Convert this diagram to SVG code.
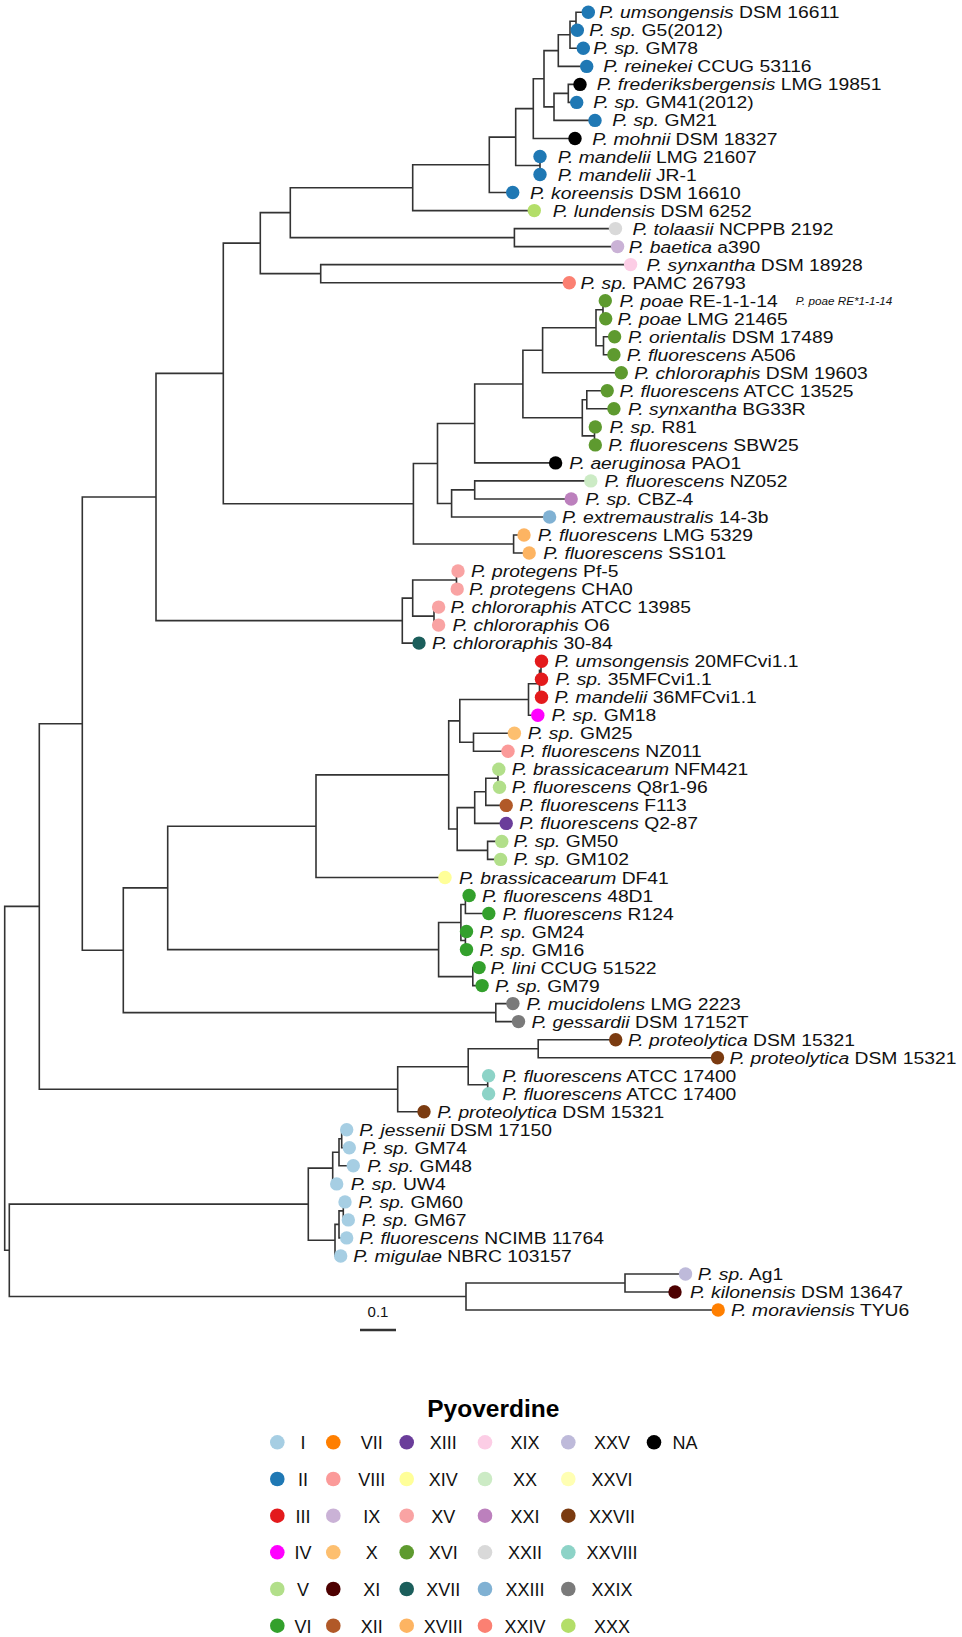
<svg xmlns="http://www.w3.org/2000/svg" width="962" height="1637" viewBox="0 0 962 1637">
<style>
.e{fill:none;stroke:#333;stroke-width:1.6;stroke-linecap:square}
.l{font-family:"Liberation Sans",Arial,sans-serif;font-size:17px;fill:#111}
.i{font-style:italic}
.lg{font-family:"Liberation Sans",Arial,sans-serif;font-size:18px;fill:#111;text-anchor:middle}
.c1{fill:#a6cee3}.c2{fill:#1f78b4}.c3{fill:#e31a1c}.c4{fill:#ff00ff}.c5{fill:#b2df8a}.c6{fill:#33a02c}
.c7{fill:#ff7f00}.c8{fill:#fb9a99}.c9{fill:#cab2d6}.c10{fill:#fdbf6f}.c11{fill:#4d0000}.c12{fill:#b15928}
.c13{fill:#6a3d9a}.c14{fill:#ffff99}.c15{fill:#f9a3a3}.c16{fill:#5e9a2f}.c17{fill:#1b5e5b}.c18{fill:#fdb462}
.c19{fill:#fccde5}.c20{fill:#ccebc5}.c21{fill:#bc80bd}.c22{fill:#d9d9d9}.c23{fill:#80b1d3}.c24{fill:#fb8072}
.c25{fill:#bebada}.c26{fill:#ffffb3}.c27{fill:#7b3b10}.c28{fill:#8dd3c7}.c29{fill:#7a7a7a}.c30{fill:#b3de69}.cna{fill:#000}
</style>
<rect width="962" height="1637" fill="#fff"/>
<g id="connectors">
<path class="e" d="M4.7 906.4V1250.3M4.7 906.4H39.3M4.7 1250.3H9.3
M39.3 723.7V1089.2M39.3 723.7H82.3M39.3 1089.2H397.7
M82.3 497V950.3M82.3 497H156M82.3 950.3H123.3
M156 373.4V620.6M156 373.4H223.3M156 620.6H402.3
M223.3 243.1V503.7M223.3 243.1H260.3M223.3 503.7H413.4
M260.3 212.6V273.6M260.3 212.6H290.3M260.3 273.6H320.7
M290.3 187.7V237.6M290.3 187.7H412.7M290.3 237.6H514.4
M412.7 164.8V210.6M412.7 164.8H489.3M412.7 210.6H534.3
M489.3 137.1V192.5M489.3 137.1H515.7M489.3 192.5H512.7
M515.7 108.6V165.5M515.7 108.6H533.3M515.7 165.5H540
M540 156.5V174.5
M533.3 78.8V138.5M533.3 78.8H544M533.3 138.5H575
M544 50.6V106.9M544 50.6H558.3M544 106.9H554
M554 93.4V120.4M554 93.4H568.3M554 120.4H595
M568.3 84.4V102.4M568.3 84.4H580M568.3 102.4H576.7
M558.3 34.8V66.4M558.3 34.8H570M558.3 66.4H586.7
M570 21.3V48.3M570 21.3H576M570 48.3H583.3
M576 12.3V30.3M576 12.3H588.3M576 30.3H577.3
M514.4 228.6V246.6M514.4 228.6H615.5M514.4 246.6H617.6
M320.7 264.6V282.7M320.7 264.6H630.6M320.7 282.7H569.3
M413.4 463.5V544M413.4 463.5H437.5M413.4 544H513.6
M437.5 423.5V503.5M437.5 423.5H474.7M437.5 503.5H451.6
M474.7 384V462.9M474.7 384H522.9M474.7 462.9H555.6
M522.9 350.2V417.8M522.9 350.2H542.6M522.9 417.8H582.3
M542.6 327.7V372.8M542.6 327.7H596M542.6 372.8H621.3
M596 309.7V345.7M596 309.7H603M596 345.7H603.5
M603 300.7V318.7M603 300.7H605.3M603 318.7H605.7
M603.5 336.7V354.8M603.5 336.7H614.6M603.5 354.8H613.9
M582.3 399.8V435.9M582.3 399.8H586.8M582.3 435.9H594.5
M586.8 390.8V408.8M586.8 390.8H607.2M586.8 408.8H613.9
M594.5 426.9V444.9M594.5 426.9H595.3M594.5 444.9H595.3
M451.6 489.9V517M451.6 489.9H474.7M451.6 517H549.6
M474.7 480.9V499M474.7 480.9H590.8M474.7 499H571.2
M513.6 535V553M513.6 535H524M513.6 553H529.2
M402.3 598.1V643.1M402.3 598.1H412.7M402.3 643.1H419
M412.7 580V616.1M412.7 580H456.5M412.7 616.1H434
M456.5 571V589.1M456.5 571H458M456.5 589.1H457.2
M434 607.1V625.1M434 607.1H438.6M434 625.1H438.6
M123.3 887.9V1012.6M123.3 887.9H167.7M123.3 1012.6H495.8
M167.7 826.2V949.6M167.7 826.2H316M167.7 949.6H438.6
M316 774.9V877.5M316 774.9H448.7M316 877.5H445
M448.7 720.9V829M448.7 720.9H459.8M448.7 829H457.2
M459.8 699.5V742.3M459.8 699.5H528.5M459.8 742.3H473.5
M528.5 683.7V715.2M528.5 683.7H539.5M528.5 715.2H537.8
M539.5 670.2V697.2M539.5 670.2H541M539.5 697.2H541.5
M541 661.2V679.2
M473.5 733.3V751.3M473.5 733.3H514.4M473.5 751.3H508
M457.2 807.6V850.4M457.2 807.6H474.7M457.2 850.4H487.6
M474.7 791.8V823.4M474.7 791.8H485.8M474.7 823.4H506.2
M485.8 778.3V805.4M485.8 778.3H498M485.8 805.4H506.2
M498 769.3V787.3M498 769.3H498.8M498 787.3H499.5
M487.6 841.4V859.4M487.6 841.4H501.8M487.6 859.4H500.6
M438.6 922.5V976.6M438.6 922.5H460.9M438.6 976.6H472.8
M460.9 904.5V940.5M460.9 904.5H465.4M460.9 940.5H465.4
M465.4 895.5V913.5M465.4 895.5H469.1M465.4 913.5H488.8
M465.4 931.5V949.6M465.4 931.5H466.5M465.4 949.6H466.5
M472.8 967.6V985.6M472.8 967.6H479.1M472.8 985.6H482.1
M495.8 1003.6V1021.6M495.8 1003.6H512.9M495.8 1021.6H518.5
M397.7 1066.7V1111.8M397.7 1066.7H468.2M397.7 1111.8H424
M468.2 1048.7V1084.7M468.2 1048.7H538.2M468.2 1084.7H487.7
M538.2 1039.7V1057.7M538.2 1039.7H615.7M538.2 1057.7H717.5
M487.7 1075.7V1093.7M487.7 1075.7H488.6M487.7 1093.7H488.6
M9.3 1204.1V1296.5M9.3 1204.1H308.3M9.3 1296.5H466
M308.3 1168.1V1240.2M308.3 1168.1H332.7M308.3 1240.2H335
M332.7 1152.3V1183.9M332.7 1152.3H339M332.7 1183.9H336.7
M339 1138.8V1165.8M339 1138.8H341.7M339 1165.8H353.3
M341.7 1129.8V1147.8M341.7 1129.8H346.7M341.7 1147.8H349.3
M335 1224.4V1256M335 1224.4H339M335 1256H340.7
M339 1210.9V1237.9M339 1210.9H343.3M339 1237.9H346.7
M343.3 1201.9V1219.9M343.3 1201.9H345M343.3 1219.9H348.3
M466 1283V1310M466 1283H625M466 1310H718.2
M625 1274V1292M625 1274H685.5M625 1292H675"/>
</g>
<g id="t1"><circle class="c2" cx="588.3" cy="12.3" r="6.7"/><text class="l" transform="matrix(1.135 0 0 1 599 18.3)"><tspan class="i">P. umsongensis</tspan> DSM 16611</text></g>
<g id="t2"><circle class="c2" cx="577.3" cy="30.3" r="6.7"/><text class="l" transform="matrix(1.135 0 0 1 589.3 36.3)"><tspan class="i">P. sp.</tspan> G5(2012)</text></g>
<g id="t3"><circle class="c2" cx="583.3" cy="48.3" r="6.7"/><text class="l" transform="matrix(1.135 0 0 1 593.3 54.3)"><tspan class="i">P. sp.</tspan> GM78</text></g>
<g id="t4"><circle class="c2" cx="586.7" cy="66.4" r="6.7"/><text class="l" transform="matrix(1.135 0 0 1 603.3 72.4)"><tspan class="i">P. reinekei</tspan> CCUG 53116</text></g>
<g id="t5"><circle class="cna" cx="580" cy="84.4" r="6.7"/><text class="l" transform="matrix(1.135 0 0 1 596.7 90.4)"><tspan class="i">P. frederiksbergensis</tspan> LMG 19851</text></g>
<g id="t6"><circle class="c2" cx="576.7" cy="102.4" r="6.7"/><text class="l" transform="matrix(1.135 0 0 1 593.3 108.4)"><tspan class="i">P. sp.</tspan> GM41(2012)</text></g>
<g id="t7"><circle class="c2" cx="595" cy="120.4" r="6.7"/><text class="l" transform="matrix(1.135 0 0 1 612.3 126.4)"><tspan class="i">P. sp.</tspan> GM21</text></g>
<g id="t8"><circle class="cna" cx="575" cy="138.5" r="6.7"/><text class="l" transform="matrix(1.135 0 0 1 592.3 144.5)"><tspan class="i">P. mohnii</tspan> DSM 18327</text></g>
<g id="t9"><circle class="c2" cx="540" cy="156.5" r="6.7"/><text class="l" transform="matrix(1.135 0 0 1 557.7 162.5)"><tspan class="i">P. mandelii</tspan> LMG 21607</text></g>
<g id="t10"><circle class="c2" cx="540" cy="174.5" r="6.7"/><text class="l" transform="matrix(1.135 0 0 1 557.7 180.5)"><tspan class="i">P. mandelii</tspan> JR-1</text></g>
<g id="t11"><circle class="c2" cx="512.7" cy="192.5" r="6.7"/><text class="l" transform="matrix(1.135 0 0 1 530 198.5)"><tspan class="i">P. koreensis</tspan> DSM 16610</text></g>
<g id="t12"><circle class="c30" cx="534.3" cy="210.6" r="6.7"/><text class="l" transform="matrix(1.135 0 0 1 552.7 216.6)"><tspan class="i">P. lundensis</tspan> DSM 6252</text></g>
<g id="t13"><circle class="c22" cx="615.5" cy="228.6" r="6.7"/><text class="l" transform="matrix(1.135 0 0 1 632.4 234.6)"><tspan class="i">P. tolaasii</tspan> NCPPB 2192</text></g>
<g id="t14"><circle class="c9" cx="617.6" cy="246.6" r="6.7"/><text class="l" transform="matrix(1.135 0 0 1 628.7 252.6)"><tspan class="i">P. baetica</tspan> a390</text></g>
<g id="t15"><circle class="c19" cx="630.6" cy="264.6" r="6.7"/><text class="l" transform="matrix(1.135 0 0 1 646.5 270.6)"><tspan class="i">P. synxantha</tspan> DSM 18928</text></g>
<g id="t16"><circle class="c24" cx="569.3" cy="282.7" r="6.7"/><text class="l" transform="matrix(1.135 0 0 1 580.4 288.7)"><tspan class="i">P. sp.</tspan> PAMC 26793</text></g>
<g id="t17"><circle class="c16" cx="605.3" cy="300.7" r="6.7"/><text class="l" transform="matrix(1.135 0 0 1 619.4 306.7)"><tspan class="i">P. poae</tspan> RE-1-1-14</text><text class="l i" style="font-size:10px" transform="matrix(1.17 0 0 1 795.7 304.5)">P. poae RE*1-1-14</text></g>
<g id="t18"><circle class="c16" cx="605.7" cy="318.7" r="6.7"/><text class="l" transform="matrix(1.135 0 0 1 617.6 324.7)"><tspan class="i">P. poae</tspan> LMG 21465</text></g>
<g id="t19"><circle class="c16" cx="614.6" cy="336.7" r="6.7"/><text class="l" transform="matrix(1.135 0 0 1 628 342.7)"><tspan class="i">P. orientalis</tspan> DSM 17489</text></g>
<g id="t20"><circle class="c16" cx="613.9" cy="354.8" r="6.7"/><text class="l" transform="matrix(1.135 0 0 1 626.8 360.8)"><tspan class="i">P. fluorescens</tspan> A506</text></g>
<g id="t21"><circle class="c16" cx="621.3" cy="372.8" r="6.7"/><text class="l" transform="matrix(1.135 0 0 1 634.3 378.8)"><tspan class="i">P. chlororaphis</tspan> DSM 19603</text></g>
<g id="t22"><circle class="c16" cx="607.2" cy="390.8" r="6.7"/><text class="l" transform="matrix(1.135 0 0 1 619.4 396.8)"><tspan class="i">P. fluorescens</tspan> ATCC 13525</text></g>
<g id="t23"><circle class="c16" cx="613.9" cy="408.8" r="6.7"/><text class="l" transform="matrix(1.135 0 0 1 628 414.8)"><tspan class="i">P. synxantha</tspan> BG33R</text></g>
<g id="t24"><circle class="c16" cx="595.3" cy="426.9" r="6.7"/><text class="l" transform="matrix(1.135 0 0 1 609.4 432.9)"><tspan class="i">P. sp.</tspan> R81</text></g>
<g id="t25"><circle class="c16" cx="595.3" cy="444.9" r="6.7"/><text class="l" transform="matrix(1.135 0 0 1 608.3 450.9)"><tspan class="i">P. fluorescens</tspan> SBW25</text></g>
<g id="t26"><circle class="cna" cx="555.6" cy="462.9" r="6.7"/><text class="l" transform="matrix(1.135 0 0 1 569.3 468.9)"><tspan class="i">P. aeruginosa</tspan> PAO1</text></g>
<g id="t27"><circle class="c20" cx="590.8" cy="480.9" r="6.7"/><text class="l" transform="matrix(1.135 0 0 1 604.6 486.9)"><tspan class="i">P. fluorescens</tspan> NZ052</text></g>
<g id="t28"><circle class="c21" cx="571.2" cy="499" r="6.7"/><text class="l" transform="matrix(1.135 0 0 1 585.3 505)"><tspan class="i">P. sp.</tspan> CBZ-4</text></g>
<g id="t29"><circle class="c23" cx="549.6" cy="517" r="6.7"/><text class="l" transform="matrix(1.135 0 0 1 561.9 523)"><tspan class="i">P. extremaustralis</tspan> 14-3b</text></g>
<g id="t30"><circle class="c18" cx="524" cy="535" r="6.7"/><text class="l" transform="matrix(1.135 0 0 1 537.8 541)"><tspan class="i">P. fluorescens</tspan> LMG 5329</text></g>
<g id="t31"><circle class="c18" cx="529.2" cy="553" r="6.7"/><text class="l" transform="matrix(1.135 0 0 1 543.3 559)"><tspan class="i">P. fluorescens</tspan> SS101</text></g>
<g id="t32"><circle class="c15" cx="458" cy="571" r="6.7"/><text class="l" transform="matrix(1.135 0 0 1 470.9 577)"><tspan class="i">P. protegens</tspan> Pf-5</text></g>
<g id="t33"><circle class="c15" cx="457.2" cy="589.1" r="6.7"/><text class="l" transform="matrix(1.135 0 0 1 469.1 595.1)"><tspan class="i">P. protegens</tspan> CHA0</text></g>
<g id="t34"><circle class="c15" cx="438.6" cy="607.1" r="6.7"/><text class="l" transform="matrix(1.135 0 0 1 450.5 613.1)"><tspan class="i">P. chlororaphis</tspan> ATCC 13985</text></g>
<g id="t35"><circle class="c15" cx="438.6" cy="625.1" r="6.7"/><text class="l" transform="matrix(1.135 0 0 1 452.4 631.1)"><tspan class="i">P. chlororaphis</tspan> O6</text></g>
<g id="t36"><circle class="c17" cx="419" cy="643.1" r="6.7"/><text class="l" transform="matrix(1.135 0 0 1 432 649.1)"><tspan class="i">P. chlororaphis</tspan> 30-84</text></g>
<g id="t37"><circle class="c3" cx="541.5" cy="661.2" r="6.7"/><text class="l" transform="matrix(1.135 0 0 1 554.5 667.2)"><tspan class="i">P. umsongensis</tspan> 20MFCvi1.1</text></g>
<g id="t38"><circle class="c3" cx="541.5" cy="679.2" r="6.7"/><text class="l" transform="matrix(1.135 0 0 1 555.6 685.2)"><tspan class="i">P. sp.</tspan> 35MFCvi1.1</text></g>
<g id="t39"><circle class="c3" cx="541.5" cy="697.2" r="6.7"/><text class="l" transform="matrix(1.135 0 0 1 554.5 703.2)"><tspan class="i">P. mandelii</tspan> 36MFCvi1.1</text></g>
<g id="t40"><circle class="c4" cx="537.8" cy="715.2" r="6.7"/><text class="l" transform="matrix(1.135 0 0 1 551.5 721.2)"><tspan class="i">P. sp.</tspan> GM18</text></g>
<g id="t41"><circle class="c10" cx="514.4" cy="733.3" r="6.7"/><text class="l" transform="matrix(1.135 0 0 1 527.7 739.3)"><tspan class="i">P. sp.</tspan> GM25</text></g>
<g id="t42"><circle class="c8" cx="508" cy="751.3" r="6.7"/><text class="l" transform="matrix(1.135 0 0 1 520.3 757.3)"><tspan class="i">P. fluorescens</tspan> NZ011</text></g>
<g id="t43"><circle class="c5" cx="498.8" cy="769.3" r="6.7"/><text class="l" transform="matrix(1.135 0 0 1 511.8 775.3)"><tspan class="i">P. brassicacearum</tspan> NFM421</text></g>
<g id="t44"><circle class="c5" cx="499.5" cy="787.3" r="6.7"/><text class="l" transform="matrix(1.135 0 0 1 511.8 793.3)"><tspan class="i">P. fluorescens</tspan> Q8r1-96</text></g>
<g id="t45"><circle class="c12" cx="506.2" cy="805.4" r="6.7"/><text class="l" transform="matrix(1.135 0 0 1 519.2 811.4)"><tspan class="i">P. fluorescens</tspan> F113</text></g>
<g id="t46"><circle class="c13" cx="506.2" cy="823.4" r="6.7"/><text class="l" transform="matrix(1.135 0 0 1 519.2 829.4)"><tspan class="i">P. fluorescens</tspan> Q2-87</text></g>
<g id="t47"><circle class="c5" cx="501.8" cy="841.4" r="6.7"/><text class="l" transform="matrix(1.135 0 0 1 513.6 847.4)"><tspan class="i">P. sp.</tspan> GM50</text></g>
<g id="t48"><circle class="c5" cx="500.6" cy="859.4" r="6.7"/><text class="l" transform="matrix(1.135 0 0 1 513.6 865.4)"><tspan class="i">P. sp.</tspan> GM102</text></g>
<g id="t49"><circle class="c14" cx="445" cy="877.5" r="6.7"/><text class="l" transform="matrix(1.135 0 0 1 459.1 883.5)"><tspan class="i">P. brassicacearum</tspan> DF41</text></g>
<g id="t50"><circle class="c6" cx="469.1" cy="895.5" r="6.7"/><text class="l" transform="matrix(1.135 0 0 1 482.1 901.5)"><tspan class="i">P. fluorescens</tspan> 48D1</text></g>
<g id="t51"><circle class="c6" cx="488.8" cy="913.5" r="6.7"/><text class="l" transform="matrix(1.135 0 0 1 502.5 919.5)"><tspan class="i">P. fluorescens</tspan> R124</text></g>
<g id="t52"><circle class="c6" cx="466.5" cy="931.5" r="6.7"/><text class="l" transform="matrix(1.135 0 0 1 479.5 937.5)"><tspan class="i">P. sp.</tspan> GM24</text></g>
<g id="t53"><circle class="c6" cx="466.5" cy="949.6" r="6.7"/><text class="l" transform="matrix(1.135 0 0 1 479.5 955.6)"><tspan class="i">P. sp.</tspan> GM16</text></g>
<g id="t54"><circle class="c6" cx="479.1" cy="967.6" r="6.7"/><text class="l" transform="matrix(1.135 0 0 1 490.6 973.6)"><tspan class="i">P. lini</tspan> CCUG 51522</text></g>
<g id="t55"><circle class="c6" cx="482.1" cy="985.6" r="6.7"/><text class="l" transform="matrix(1.135 0 0 1 495.1 991.6)"><tspan class="i">P. sp.</tspan> GM79</text></g>
<g id="t56"><circle class="c29" cx="512.9" cy="1003.6" r="6.7"/><text class="l" transform="matrix(1.135 0 0 1 526.6 1009.6)"><tspan class="i">P. mucidolens</tspan> LMG 2223</text></g>
<g id="t57"><circle class="c29" cx="518.5" cy="1021.6" r="6.7"/><text class="l" transform="matrix(1.135 0 0 1 531.4 1027.6)"><tspan class="i">P. gessardii</tspan> DSM 17152T</text></g>
<g id="t58"><circle class="c27" cx="615.7" cy="1039.7" r="6.7"/><text class="l" transform="matrix(1.135 0 0 1 628 1045.7)"><tspan class="i">P. proteolytica</tspan> DSM 15321</text></g>
<g id="t59"><circle class="c27" cx="717.5" cy="1057.7" r="6.7"/><text class="l" transform="matrix(1.135 0 0 1 729.5 1063.7)"><tspan class="i">P. proteolytica</tspan> DSM 15321</text></g>
<g id="t60"><circle class="c28" cx="488.6" cy="1075.7" r="6.7"/><text class="l" transform="matrix(1.135 0 0 1 502.3 1081.7)"><tspan class="i">P. fluorescens</tspan> ATCC 17400</text></g>
<g id="t61"><circle class="c28" cx="488.6" cy="1093.7" r="6.7"/><text class="l" transform="matrix(1.135 0 0 1 502.3 1099.7)"><tspan class="i">P. fluorescens</tspan> ATCC 17400</text></g>
<g id="t62"><circle class="c27" cx="424" cy="1111.8" r="6.7"/><text class="l" transform="matrix(1.135 0 0 1 437.3 1117.8)"><tspan class="i">P. proteolytica</tspan> DSM 15321</text></g>
<g id="t63"><circle class="c1" cx="346.7" cy="1129.8" r="6.7"/><text class="l" transform="matrix(1.135 0 0 1 359.3 1135.8)"><tspan class="i">P. jessenii</tspan> DSM 17150</text></g>
<g id="t64"><circle class="c1" cx="349.3" cy="1147.8" r="6.7"/><text class="l" transform="matrix(1.135 0 0 1 362.3 1153.8)"><tspan class="i">P. sp.</tspan> GM74</text></g>
<g id="t65"><circle class="c1" cx="353.3" cy="1165.8" r="6.7"/><text class="l" transform="matrix(1.135 0 0 1 367.3 1171.8)"><tspan class="i">P. sp.</tspan> GM48</text></g>
<g id="t66"><circle class="c1" cx="336.7" cy="1183.9" r="6.7"/><text class="l" transform="matrix(1.135 0 0 1 350.7 1189.9)"><tspan class="i">P. sp.</tspan> UW4</text></g>
<g id="t67"><circle class="c1" cx="345" cy="1201.9" r="6.7"/><text class="l" transform="matrix(1.135 0 0 1 358.3 1207.9)"><tspan class="i">P. sp.</tspan> GM60</text></g>
<g id="t68"><circle class="c1" cx="348.3" cy="1219.9" r="6.7"/><text class="l" transform="matrix(1.135 0 0 1 361.7 1225.9)"><tspan class="i">P. sp.</tspan> GM67</text></g>
<g id="t69"><circle class="c1" cx="346.7" cy="1237.9" r="6.7"/><text class="l" transform="matrix(1.135 0 0 1 359.3 1243.9)"><tspan class="i">P. fluorescens</tspan> NCIMB 11764</text></g>
<g id="t70"><circle class="c1" cx="340.7" cy="1256" r="6.7"/><text class="l" transform="matrix(1.135 0 0 1 353.3 1262)"><tspan class="i">P. migulae</tspan> NBRC 103157</text></g>
<g id="t71"><circle class="c25" cx="685.5" cy="1274" r="6.7"/><text class="l" transform="matrix(1.135 0 0 1 697.7 1280)"><tspan class="i">P. sp.</tspan> Ag1</text></g>
<g id="t72"><circle class="c11" cx="675" cy="1292" r="6.7"/><text class="l" transform="matrix(1.135 0 0 1 690 1298)"><tspan class="i">P. kilonensis</tspan> DSM 13647</text></g>
<g id="t73"><circle class="c7" cx="718.2" cy="1310" r="6.7"/><text class="l" transform="matrix(1.135 0 0 1 731 1316)"><tspan class="i">P. moraviensis</tspan> TYU6</text></g>
<g id="scalebar">
<path d="M360 1330H396" stroke="#333" stroke-width="2.5" fill="none"/>
<text x="378" y="1317" font-family="Liberation Sans, Arial, sans-serif" font-size="15" text-anchor="middle" fill="#111">0.1</text>
</g>
<g id="legend">
<text x="493.3" y="1416.7" font-family="Liberation Sans, Arial, sans-serif" font-size="24.5" font-weight="bold" text-anchor="middle" fill="#000">Pyoverdine</text>
<circle class="c1" cx="277.3" cy="1442.3" r="7.3"/><text class="lg" x="303" y="1449.3">I</text>
<circle class="c2" cx="277.3" cy="1479" r="7.3"/><text class="lg" x="303" y="1486">II</text>
<circle class="c3" cx="277.3" cy="1515.7" r="7.3"/><text class="lg" x="303" y="1522.7">III</text>
<circle class="c4" cx="277.3" cy="1552.3" r="7.3"/><text class="lg" x="303" y="1559.3">IV</text>
<circle class="c5" cx="277.3" cy="1589" r="7.3"/><text class="lg" x="303" y="1596">V</text>
<circle class="c6" cx="277.3" cy="1625.7" r="7.3"/><text class="lg" x="303" y="1632.7">VI</text>
<circle class="c7" cx="333.3" cy="1442.3" r="7.3"/><text class="lg" x="371.7" y="1449.3">VII</text>
<circle class="c8" cx="333.3" cy="1479" r="7.3"/><text class="lg" x="371.7" y="1486">VIII</text>
<circle class="c9" cx="333.3" cy="1515.7" r="7.3"/><text class="lg" x="371.7" y="1522.7">IX</text>
<circle class="c10" cx="333.3" cy="1552.3" r="7.3"/><text class="lg" x="371.7" y="1559.3">X</text>
<circle class="c11" cx="333.3" cy="1589" r="7.3"/><text class="lg" x="371.7" y="1596">XI</text>
<circle class="c12" cx="333.3" cy="1625.7" r="7.3"/><text class="lg" x="371.7" y="1632.7">XII</text>
<circle class="c13" cx="406.7" cy="1442.3" r="7.3"/><text class="lg" x="443.3" y="1449.3">XIII</text>
<circle class="c14" cx="406.7" cy="1479" r="7.3"/><text class="lg" x="443.3" y="1486">XIV</text>
<circle class="c15" cx="406.7" cy="1515.7" r="7.3"/><text class="lg" x="443.3" y="1522.7">XV</text>
<circle class="c16" cx="406.7" cy="1552.3" r="7.3"/><text class="lg" x="443.3" y="1559.3">XVI</text>
<circle class="c17" cx="406.7" cy="1589" r="7.3"/><text class="lg" x="443.3" y="1596">XVII</text>
<circle class="c18" cx="406.7" cy="1625.7" r="7.3"/><text class="lg" x="443.3" y="1632.7">XVIII</text>
<circle class="c19" cx="485" cy="1442.3" r="7.3"/><text class="lg" x="525" y="1449.3">XIX</text>
<circle class="c20" cx="485" cy="1479" r="7.3"/><text class="lg" x="525" y="1486">XX</text>
<circle class="c21" cx="485" cy="1515.7" r="7.3"/><text class="lg" x="525" y="1522.7">XXI</text>
<circle class="c22" cx="485" cy="1552.3" r="7.3"/><text class="lg" x="525" y="1559.3">XXII</text>
<circle class="c23" cx="485" cy="1589" r="7.3"/><text class="lg" x="525" y="1596">XXIII</text>
<circle class="c24" cx="485" cy="1625.7" r="7.3"/><text class="lg" x="525" y="1632.7">XXIV</text>
<circle class="c25" cx="568.3" cy="1442.3" r="7.3"/><text class="lg" x="612" y="1449.3">XXV</text>
<circle class="c26" cx="568.3" cy="1479" r="7.3"/><text class="lg" x="612" y="1486">XXVI</text>
<circle class="c27" cx="568.3" cy="1515.7" r="7.3"/><text class="lg" x="612" y="1522.7">XXVII</text>
<circle class="c28" cx="568.3" cy="1552.3" r="7.3"/><text class="lg" x="612" y="1559.3">XXVIII</text>
<circle class="c29" cx="568.3" cy="1589" r="7.3"/><text class="lg" x="612" y="1596">XXIX</text>
<circle class="c30" cx="568.3" cy="1625.7" r="7.3"/><text class="lg" x="612" y="1632.7">XXX</text>
<circle class="cna" cx="654" cy="1442.3" r="7.3"/><text class="lg" x="685" y="1449.3">NA</text>
</g>
</svg>
